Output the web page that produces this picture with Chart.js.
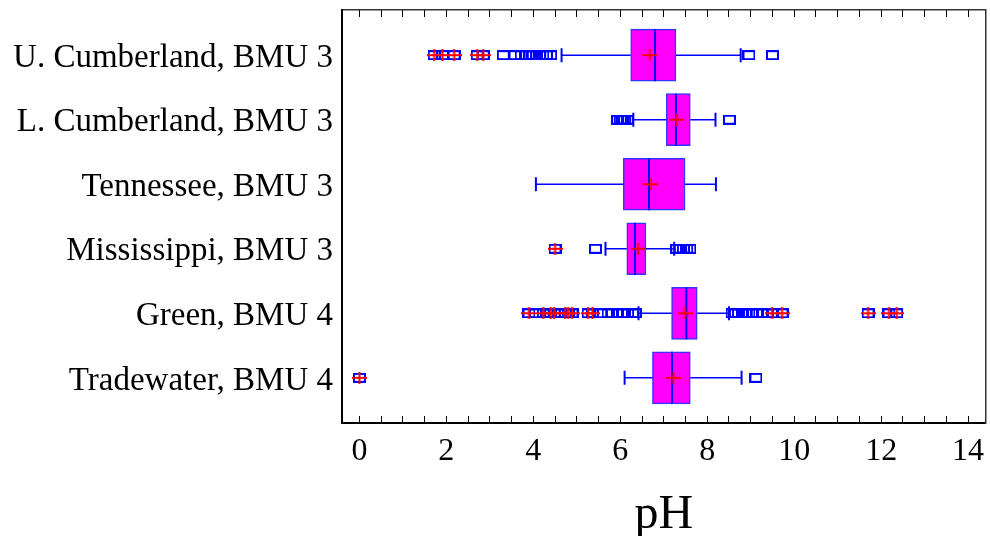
<!DOCTYPE html>
<html>
<head>
<meta charset="utf-8">
<script src="https://cdn.jsdelivr.net/npm/chart.js@4/dist/chart.umd.min.js"></script>
<style>
  html, body { margin: 0; padding: 0; background: #fff; }
  #wrap { width: 990px; height: 536px; position: relative; }
</style>
</head>
<body>
<div id="wrap"><canvas id="c" width="990" height="536"></canvas></div>
<script>
// ---- data ----
const categories = ['U. Cumberland, BMU 3', 'L. Cumberland, BMU 3', 'Tennessee, BMU 3',
                    'Mississippi, BMU 3', 'Green, BMU 4', 'Tradewater, BMU 4'];
const whiskerLow  = [4.65, 6.30, 4.06, 5.66, 6.42, 6.10];
const q1          = [6.24, 7.06, 6.07, 6.15, 7.18, 6.74];
const median      = [6.80, 7.28, 6.66, 6.34, 7.52, 7.19];
const mean        = [6.68, 7.30, 6.70, 6.41, 7.49, 7.22];
const q3          = [7.28, 7.61, 7.49, 6.59, 7.77, 7.61];
const whiskerHigh = [8.77, 8.19, 8.20, 7.24, 8.50, 8.79];

const outliersUCumberland = [1.72, 1.91, 2.18, 2.71, 2.85, 3.31, 3.58, 3.72, 3.82, 3.92, 4.00, 4.08, 4.15, 4.22, 4.30, 4.40, 8.96, 9.50];
const farUCumberland      = [1.72, 1.91, 2.18, 2.71, 2.85];
const outliersLCumberland = [5.94, 6.00, 6.05, 6.10, 6.16, 8.51];
const farLCumberland      = [];
const outliersTennessee   = [];
const farTennessee        = [];
const outliersMississippi = [4.50, 5.43, 7.30, 7.38, 7.45, 7.53, 7.60];
const farMississippi      = [4.50];
const outliersGreen = [3.90, 4.05, 4.23, 4.32, 4.40, 4.48, 4.60, 4.73, 4.80, 4.89, 5.26, 5.36, 5.55, 5.72, 5.82, 5.94, 6.05, 6.17, 6.28, 6.35,
                       8.57, 8.65, 8.72, 8.80, 8.88, 8.96, 9.05, 9.15, 9.27, 9.38, 9.49, 9.72, 11.70, 12.18, 12.36];
const farGreen      = [3.90, 4.23, 4.40, 4.48, 4.73, 4.80, 4.89, 5.26, 5.36, 9.49, 9.72, 11.70, 12.18, 12.36];
const outliersTradewater = [0.00, 9.12];
const farTradewater      = [0.00];

const xTickLabels = [0, 2, 4, 6, 8, 10, 12, 14];
const xMinorStep = 0.5;
const xTitle = 'pH';

// ---- build library structures ----
const outlierRows = [outliersUCumberland, outliersLCumberland, outliersTennessee, outliersMississippi, outliersGreen, outliersTradewater];
const farRows = [farUCumberland, farLCumberland, farTennessee, farMississippi, farGreen, farTradewater];

const BLUE = '#0000ff', RED = '#ff0000', MAGENTA = '#ff00ff';
const FONT = "'Liberation Serif', 'Times New Roman', serif";

function rectImg(w, h, color, lw) {
  const c = document.createElement('canvas'); c.width = w; c.height = h;
  const g = c.getContext('2d'); g.strokeStyle = color; g.lineWidth = lw;
  g.strokeRect(lw / 2, lw / 2, w - lw, h - lw); return c;
}
function plusImg(w, h, color, lw) {
  const c = document.createElement('canvas'); c.width = w; c.height = h;
  const g = c.getContext('2d'); g.fillStyle = color;
  g.fillRect(0, (h - lw) / 2, w, lw); g.fillRect((w - lw) / 2, 0, lw, h); return c;
}
const squareStyle = rectImg(13, 10, BLUE, 2);
const plusStyle = plusImg(15, 12, RED, 2);

const boxData = categories.map((c, i) => ({ x: [q1[i], q3[i]], y: i }));
const whiskerData = [];
categories.forEach((c, i) => {
  whiskerData.push({ x: whiskerLow[i], y: i }, { x: q1[i], y: i }, { x: null, y: i },
                   { x: q3[i], y: i }, { x: whiskerHigh[i], y: i }, { x: null, y: i });
});
const capData = [];
categories.forEach((c, i) => { capData.push({ x: whiskerLow[i], y: i }, { x: whiskerHigh[i], y: i }); });
const medianData = categories.map((c, i) => ({ x: median[i], y: i }));
const meanData = categories.map((c, i) => ({ x: mean[i], y: i }));
const outlierData = [], farData = [];
outlierRows.forEach((row, i) => row.forEach(v => outlierData.push({ x: v, y: i })));
farRows.forEach((row, i) => row.forEach(v => farData.push({ x: v, y: i })));

function minorTicks(axis) {
  const t = [];
  const lo = xTickLabels[0], hi = xTickLabels[xTickLabels.length - 1];
  for (let v = lo; v <= hi + 1e-9; v += xMinorStep) t.push({ value: Math.round(v * 100) / 100 });
  axis.ticks = t;
}
function noPad(a) { a.paddingTop = 0; a.paddingBottom = 0; a.paddingLeft = 0; a.paddingRight = 0; }

const pointBase = { type: 'line', showLine: false, xAxisID: 'x', yAxisID: 'y', pointRadius: 6, pointHoverRadius: 6 };

new Chart(document.getElementById('c'), {
  type: 'bar',
  data: {
    datasets: [
      { type: 'bar', data: boxData, backgroundColor: MAGENTA, borderColor: 'rgba(30,30,255,0.9)',
        borderWidth: 1.5, borderSkipped: false, barThickness: 52, xAxisID: 'x', yAxisID: 'y', order: 6 },
      { type: 'line', data: whiskerData, borderColor: BLUE, borderWidth: 1.5, pointRadius: 0,
        spanGaps: false, fill: false, xAxisID: 'x', yAxisID: 'y', order: 5 },
      Object.assign({}, pointBase, { data: capData, pointStyle: 'line', rotation: 90, pointRadius: 7,
        pointBorderColor: BLUE, pointBorderWidth: 2, order: 4 }),
      Object.assign({}, pointBase, { data: medianData, pointStyle: 'line', rotation: 90, pointRadius: 26,
        pointBorderColor: BLUE, pointBorderWidth: 2, order: 3 }),
      Object.assign({}, pointBase, { data: outlierData, pointStyle: squareStyle, order: 2 }),
      Object.assign({}, pointBase, { data: meanData, pointStyle: plusStyle, order: 1 }),
      Object.assign({}, pointBase, { data: farData, pointStyle: plusStyle, order: 0 })
    ]
  },
  options: {
    indexAxis: 'y',
    responsive: false,
    animation: false,
    events: [],
    layout: { autoPadding: false, padding: { left: 12, right: 4.5, top: 10, bottom: 0 } },
    plugins: { legend: { display: false }, tooltip: { enabled: false } },
    scales: {
      x: {
        type: 'linear', axis: 'x', position: 'bottom', min: -0.4, max: 14.4, offset: false,
        afterBuildTicks: minorTicks,
        afterFit: (a) => { a.height = 113; noPad(a); },
        ticks: {
          autoSkip: false, maxRotation: 0, padding: 16, color: '#000',
          font: { family: FONT, size: 32 },
          callback: (v) => (xTickLabels.includes(v) ? String(v) : '')
        },
        grid: { offset: false, drawOnChartArea: false, drawTicks: true, tickLength: -7, color: '#000', lineWidth: 1 },
        border: { display: true, color: '#000', width: 2 },
        title: { display: true, text: xTitle, color: '#000', font: { family: FONT, size: 48 }, padding: { top: 0, bottom: -8 } }
      },
      x2: {
        type: 'linear', axis: 'x', position: 'top', min: -0.4, max: 14.4, display: true, offset: false,
        afterBuildTicks: minorTicks,
        afterFit: (a) => { a.height = 0; noPad(a); },
        ticks: { display: false },
        grid: { offset: false, drawOnChartArea: false, drawTicks: true, tickLength: -7, color: '#000', lineWidth: 1 },
        border: { display: true, color: '#333', width: 1.5 }
      },
      y: {
        type: 'linear', axis: 'y', position: 'left', min: -0.7, max: 5.7, reverse: true, offset: false,
        afterBuildTicks: (a) => { a.ticks = categories.map((c, i) => ({ value: i })); },
        afterFit: (a) => { a.width = 330; noPad(a); },
        ticks: { autoSkip: false, padding: 9, labelOffset: 3, color: '#000', font: { family: FONT, size: 33 },
                 callback: (v) => categories[v] ?? '' },
        grid: { offset: false, display: false, drawTicks: false },
        border: { display: true, color: '#000', width: 2 }
      },
      y2: {
        type: 'linear', axis: 'y', position: 'right', min: -0.7, max: 5.7, display: true, offset: false,
        afterFit: (a) => { a.width = 0; noPad(a); },
        ticks: { display: false },
        grid: { offset: false, display: false, drawTicks: false },
        border: { display: true, color: '#333', width: 1.5 }
      }
    }
  }
});
</script>
</body>
</html>
